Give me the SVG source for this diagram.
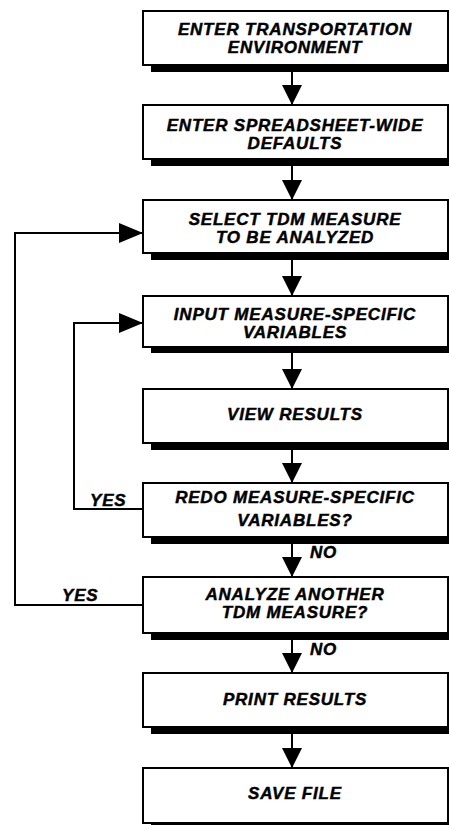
<svg xmlns="http://www.w3.org/2000/svg" width="449" height="825" viewBox="0 0 449 825">
<defs>
<style>
.box{fill:#fff;stroke:#000;stroke-width:2}
.sh{fill:#000}
.t{font-family:"Liberation Sans",Arial,sans-serif;font-weight:bold;font-style:italic;font-size:17px;letter-spacing:0.8px;fill:#000;stroke:#000;stroke-width:0.45;text-anchor:middle}
.lbl{font-family:"Liberation Sans",Arial,sans-serif;font-weight:bold;font-style:italic;font-size:17px;letter-spacing:0.8px;fill:#000;stroke:#000;stroke-width:0.45}
.ln{fill:none;stroke:#000;stroke-width:2}
</style>
<marker id="av" markerUnits="userSpaceOnUse" markerWidth="20" markerHeight="20" refX="20" refY="10" orient="auto" viewBox="0 0 20 20">
<path d="M0,0 L20,10 L0,20 z" fill="#000"/>
</marker>
<marker id="ah" markerUnits="userSpaceOnUse" markerWidth="24" markerHeight="20" refX="24" refY="10" orient="auto" viewBox="0 0 24 20">
<path d="M0,0 L24,10 L0,20 z" fill="#000"/>
</marker>
</defs>
<rect width="449" height="825" fill="#fff"/>

<g id="connectors">
<line class="ln" x1="292" y1="72" x2="292" y2="105" marker-end="url(#av)"/>
<line class="ln" x1="292" y1="166" x2="292" y2="200" marker-end="url(#av)"/>
<line class="ln" x1="292" y1="260" x2="292" y2="296" marker-end="url(#av)"/>
<line class="ln" x1="292" y1="353" x2="292" y2="389" marker-end="url(#av)"/>
<line class="ln" x1="292" y1="450" x2="292" y2="483" marker-end="url(#av)"/>
<line class="ln" x1="292" y1="544" x2="292" y2="577" marker-end="url(#av)"/>
<line class="ln" x1="292" y1="640" x2="292" y2="673" marker-end="url(#av)"/>
<line class="ln" x1="292" y1="734" x2="292" y2="768" marker-end="url(#av)"/>
<polyline class="ln" points="143,509 74,509 74,323 143,323" marker-end="url(#ah)"/>
<polyline class="ln" points="143,605 15,605 15,233 143,233" marker-end="url(#ah)"/>
<text class="lbl" x="90" y="506">YES</text>
<text class="lbl" x="62" y="601">YES</text>
<text class="lbl" x="310" y="558">NO</text>
<text class="lbl" x="310" y="655">NO</text>
</g>

<g id="n1">
<rect class="sh" x="151" y="18" width="305" height="54"/>
<rect class="box" x="143" y="11" width="305" height="54"/>
<text class="t" x="295" y="35">ENTER TRANSPORTATION</text>
<text class="t" x="295" y="53">ENVIRONMENT</text>
</g>
<g id="n2">
<rect class="sh" x="151" y="112" width="305" height="54"/>
<rect class="box" x="143" y="105" width="305" height="54"/>
<text class="t" x="295" y="130.5">ENTER SPREADSHEET-WIDE</text>
<text class="t" x="295" y="148.5">DEFAULTS</text>
</g>
<g id="n3">
<rect class="sh" x="151" y="207" width="305" height="53"/>
<rect class="box" x="143" y="200" width="305" height="53"/>
<text class="t" x="295" y="225">SELECT TDM MEASURE</text>
<text class="t" x="295" y="243">TO BE ANALYZED</text>
</g>
<g id="n4">
<rect class="sh" x="151" y="302" width="305" height="51"/>
<rect class="box" x="143" y="296" width="305" height="51"/>
<text class="t" x="295" y="319.5">INPUT MEASURE-SPECIFIC</text>
<text class="t" x="295" y="337.5">VARIABLES</text>
</g>
<g id="n5">
<rect class="sh" x="151" y="396" width="305" height="54"/>
<rect class="box" x="143" y="389" width="305" height="54"/>
<text class="t" x="295" y="420">VIEW RESULTS</text>
</g>
<g id="n6">
<rect class="sh" x="151" y="490" width="305" height="54"/>
<rect class="box" x="143" y="483" width="305" height="54"/>
<text class="t" x="295" y="502.5">REDO MEASURE-SPECIFIC</text>
<text class="t" x="295" y="525.5">VARIABLES?</text>
</g>
<g id="n7">
<rect class="sh" x="151" y="584" width="305" height="56"/>
<rect class="box" x="143" y="577" width="305" height="56"/>
<text class="t" x="295" y="600">ANALYZE ANOTHER</text>
<text class="t" x="295" y="618">TDM MEASURE?</text>
</g>
<g id="n8">
<rect class="sh" x="151" y="680" width="305" height="54"/>
<rect class="box" x="143" y="673" width="305" height="54"/>
<text class="t" x="295" y="705">PRINT RESULTS</text>
</g>
<g id="n9">
<rect class="sh" x="151" y="775" width="305" height="55"/>
<rect class="box" x="143" y="768" width="305" height="55"/>
<text class="t" x="295" y="798.5">SAVE FILE</text>
</g>
</svg>
